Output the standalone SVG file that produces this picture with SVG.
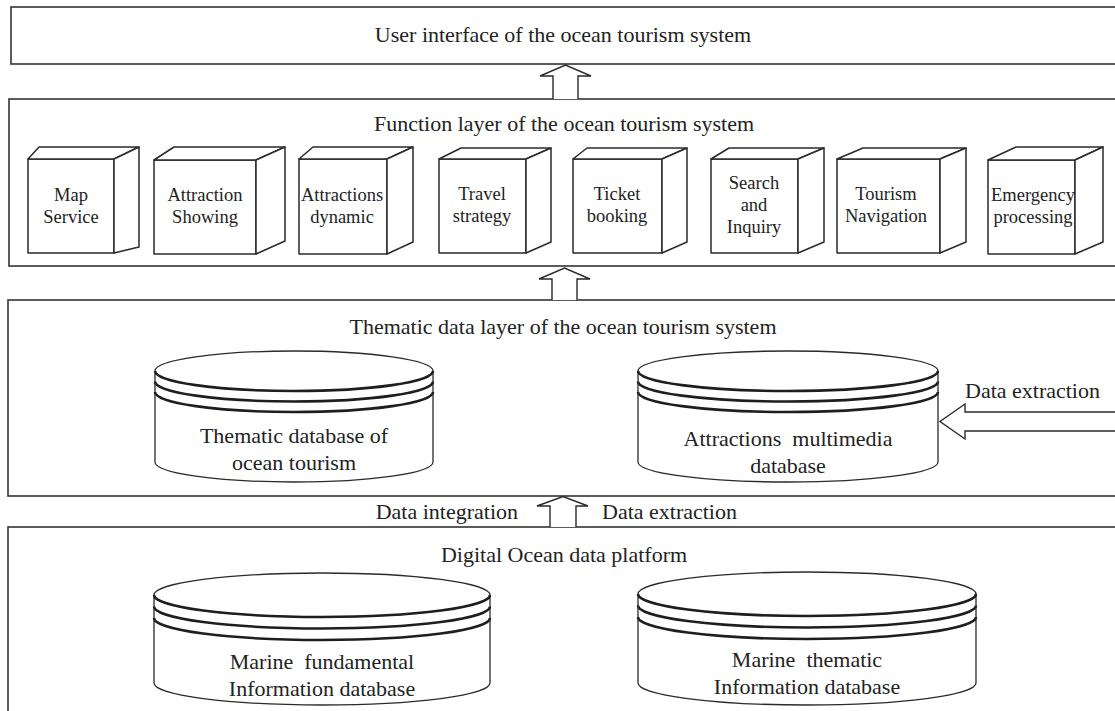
<svg xmlns="http://www.w3.org/2000/svg" width="1115" height="711" viewBox="0 0 1115 711">
  <style>
    .layer { fill: #ffffff; stroke: #333333; stroke-width: 1.6; }
    .cube { fill: #ffffff; stroke: #2a2a2a; stroke-width: 1.5; stroke-linejoin: round; }
    .cyl { fill: #ffffff; stroke: #2a2a2a; stroke-width: 1.3; }
    .ring { fill: none; stroke: #1e1e1e; stroke-width: 2.6; }
    .arrow { fill: #ffffff; stroke: #2a2a2a; stroke-width: 1.4; stroke-linejoin: miter; }
    text { font-family: "Liberation Serif", "Times New Roman", serif; fill: #222222; }
    .title { font-size: 22px; text-anchor: middle; }
    .label { font-size: 22px; }
    .cubetxt { font-size: 18.5px; text-anchor: middle; }
    .dbtxt { font-size: 22px; text-anchor: middle; }
  </style>

  <rect width="1115" height="711" fill="#ffffff"/>

  <!-- layer frames (they run past the right and bottom edges) -->
  <g id="layer-ui">
    <rect class="layer" x="11" y="7" width="1115" height="57"/>
    <text class="title" x="563" y="42">User interface of the ocean tourism system</text>
  </g>

  <g id="layer-function">
    <rect class="layer" x="9" y="99" width="1115" height="167"/>
    <text class="title" x="564" y="131">Function layer of the ocean tourism system</text>
  </g>

  <g id="layer-thematic">
    <rect class="layer" x="8" y="300" width="1115" height="196"/>
    <text class="title" x="563" y="334">Thematic data layer of the ocean tourism system</text>
  </g>

  <g id="layer-platform">
    <rect class="layer" x="8" y="527" width="1115" height="200"/>
    <text class="title" x="564" y="562">Digital Ocean data platform</text>
  </g>

  <!-- function modules drawn as cubes -->
  <g id="cube-map">
    <rect class="cube" x="28" y="159" width="86" height="94"/>
    <path class="cube" d="M28,159 L39,147 L139,147 L114,159 Z"/>
    <path class="cube" d="M114,159 L139,147 L139,247 L114,253 Z"/>
    <text class="cubetxt" x="71" y="201">Map</text>
    <text class="cubetxt" x="71" y="223">Service</text>
  </g>

  <g id="cube-attraction-showing">
    <rect class="cube" x="154" y="160" width="102" height="94"/>
    <path class="cube" d="M154,160 L174,147 L285,147 L256,160 Z"/>
    <path class="cube" d="M256,160 L285,147 L285,241 L256,254 Z"/>
    <text class="cubetxt" x="205" y="201">Attraction</text>
    <text class="cubetxt" x="205" y="223">Showing</text>
  </g>

  <g id="cube-attractions-dynamic">
    <rect class="cube" x="299" y="159" width="88" height="95"/>
    <path class="cube" d="M299,159 L313,147 L413,147 L387,159 Z"/>
    <path class="cube" d="M387,159 L413,147 L413,242 L387,254 Z"/>
    <text class="cubetxt" x="342" y="201">Attractions</text>
    <text class="cubetxt" x="342" y="223">dynamic</text>
  </g>

  <g id="cube-travel-strategy">
    <rect class="cube" x="439" y="159" width="87" height="94"/>
    <path class="cube" d="M439,159 L461,148 L551,148 L526,159 Z"/>
    <path class="cube" d="M526,159 L551,148 L551,242 L526,253 Z"/>
    <text class="cubetxt" x="482" y="200">Travel</text>
    <text class="cubetxt" x="482" y="222">strategy</text>
  </g>

  <g id="cube-ticket-booking">
    <rect class="cube" x="573" y="159" width="89" height="94"/>
    <path class="cube" d="M573,159 L587,148 L687,148 L662,159 Z"/>
    <path class="cube" d="M662,159 L687,148 L687,242 L662,253 Z"/>
    <text class="cubetxt" x="617" y="200">Ticket</text>
    <text class="cubetxt" x="617" y="222">booking</text>
  </g>

  <g id="cube-search-inquiry">
    <rect class="cube" x="711" y="159" width="87" height="94"/>
    <path class="cube" d="M711,159 L729,148 L824,148 L798,159 Z"/>
    <path class="cube" d="M798,159 L824,148 L824,242 L798,253 Z"/>
    <text class="cubetxt" x="754" y="189">Search</text>
    <text class="cubetxt" x="754" y="211">and</text>
    <text class="cubetxt" x="754" y="233">Inquiry</text>
  </g>

  <g id="cube-tourism-navigation">
    <rect class="cube" x="837" y="159" width="103" height="94"/>
    <path class="cube" d="M837,159 L863,148 L966,148 L940,159 Z"/>
    <path class="cube" d="M940,159 L966,148 L966,242 L940,253 Z"/>
    <text class="cubetxt" x="886" y="200">Tourism</text>
    <text class="cubetxt" x="886" y="222">Navigation</text>
  </g>

  <g id="cube-emergency-processing">
    <rect class="cube" x="988" y="160" width="87" height="94"/>
    <path class="cube" d="M988,160 L1016,147 L1103,147 L1075,160 Z"/>
    <path class="cube" d="M1075,160 L1103,147 L1103,242 L1075,254 Z"/>
    <text class="cubetxt" x="1033" y="201">Emergency</text>
    <text class="cubetxt" x="1033" y="223">processing</text>
  </g>

  <!-- databases drawn as stacked cylinders -->
  <g id="db-thematic-tourism">
    <path class="cyl" d="M155,371 L155,462 A139,20 0 0 0 433,462 L433,371"/>
    <ellipse class="cyl" cx="294" cy="371" rx="139" ry="20"/>
    <path class="ring" d="M155,371 A139,20 0 0 0 433,371"/>
    <path class="ring" d="M155,381.5 A139,20 0 0 0 433,381.5"/>
    <path class="ring" d="M155,392 A139,20 0 0 0 433,392"/>
    <text class="dbtxt" x="294" y="443">Thematic database of</text>
    <text class="dbtxt" x="294" y="470">ocean tourism</text>
  </g>

  <g id="db-attractions-multimedia">
    <path class="cyl" d="M638,371 L638,462 A150,20 0 0 0 938,462 L938,371"/>
    <ellipse class="cyl" cx="788" cy="371" rx="150" ry="20"/>
    <path class="ring" d="M638,371 A150,20 0 0 0 938,371"/>
    <path class="ring" d="M638,381.5 A150,20 0 0 0 938,381.5"/>
    <path class="ring" d="M638,392 A150,20 0 0 0 938,392"/>
    <text class="dbtxt" x="788" y="446" xml:space="preserve">Attractions  multimedia</text>
    <text class="dbtxt" x="788" y="473">database</text>
  </g>

  <g id="db-marine-fundamental">
    <path class="cyl" d="M154,595 L154,683 A168,22 0 0 0 490,683 L490,595"/>
    <ellipse class="cyl" cx="322" cy="595" rx="168" ry="22"/>
    <path class="ring" d="M154,595 A168,22 0 0 0 490,595"/>
    <path class="ring" d="M154,606.5 A168,22 0 0 0 490,606.5"/>
    <path class="ring" d="M154,618 A168,22 0 0 0 490,618"/>
    <text class="dbtxt" x="322" y="669" xml:space="preserve">Marine  fundamental</text>
    <text class="dbtxt" x="322" y="696">Information database</text>
  </g>

  <g id="db-marine-thematic">
    <path class="cyl" d="M638,594 L638,683 A169,22 0 0 0 976,683 L976,594"/>
    <ellipse class="cyl" cx="807" cy="594" rx="169" ry="22"/>
    <path class="ring" d="M638,594 A169,22 0 0 0 976,594"/>
    <path class="ring" d="M638,605.5 A169,22 0 0 0 976,605.5"/>
    <path class="ring" d="M638,617 A169,22 0 0 0 976,617"/>
    <text class="dbtxt" x="807" y="667" xml:space="preserve">Marine  thematic</text>
    <text class="dbtxt" x="807" y="694">Information database</text>
  </g>

  <!-- hollow block arrows between layers -->
  <g id="connectors">
    <path class="arrow" d="M553,99 L553,76 L540,76 L565.5,65 L591,76 L578,76 L578,99"/>
    <path class="arrow" d="M552,300 L552,279 L539,279 L564.5,268 L590,279 L577,279 L577,300"/>
    <path class="arrow" d="M550,527 L550,506 L537,506 L563,496.5 L588,506 L576,506 L576,527"/>
    <path class="arrow" d="M1120,412 L965,412 L965,404 L940,421.5 L965,439 L965,431 L1120,431"/>
    <text class="label" x="518" y="519" text-anchor="end">Data integration</text>
    <text class="label" x="602" y="519">Data extraction</text>
    <text class="label" x="965" y="398">Data extraction</text>
  </g>
</svg>
